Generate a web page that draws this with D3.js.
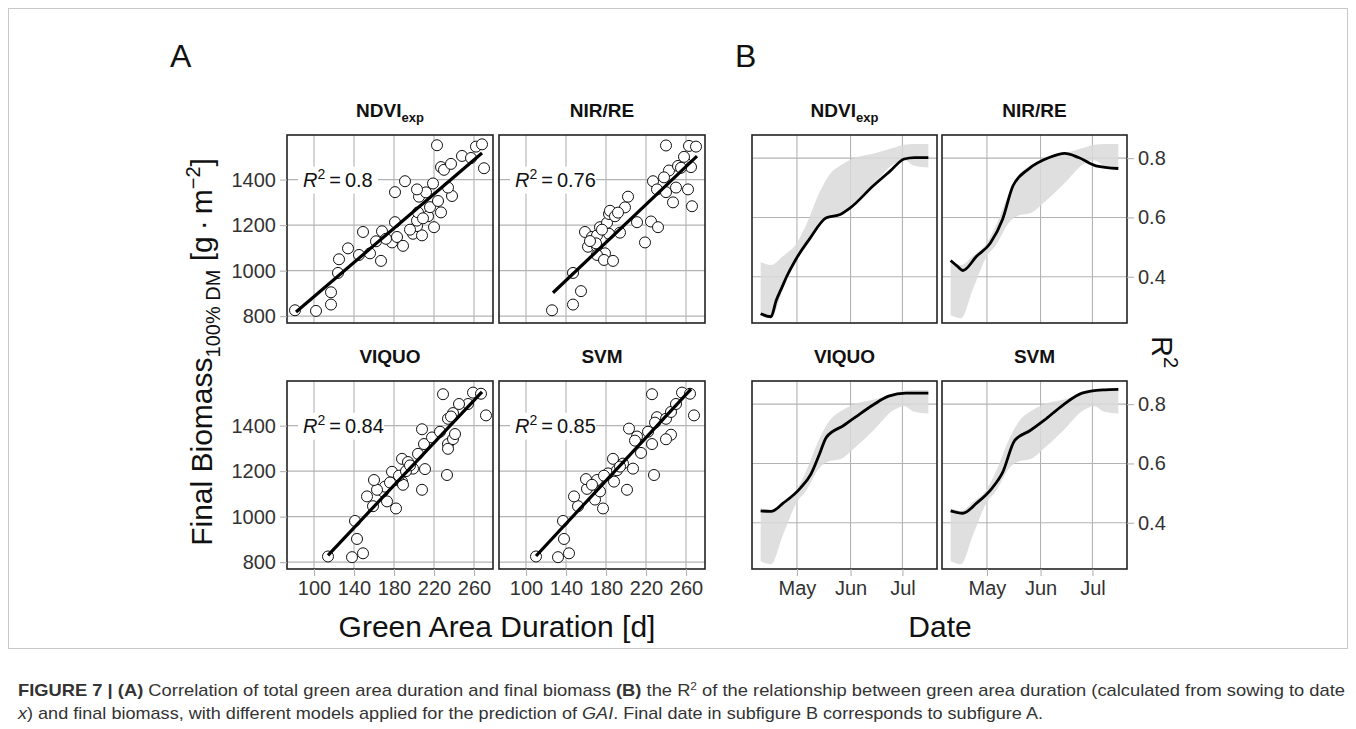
<!DOCTYPE html>
<html>
<head>
<meta charset="utf-8">
<script src="https://cdn.jsdelivr.net/npm/d3@7"></script>
<style>
  body { margin: 0; background: #fff; }
  text { font-family: "Liberation Sans", Arial, sans-serif; }
</style>
</head>
<body>
<svg id="fig" width="1356" height="729"></svg>
<script>
// ---- data ----
var panelNames = ["NDVI", "NIR/RE", "VIQUO", "SVM"];
var panelSubs = ["exp", "", "", ""];
var r2Labels = ["0.8", "0.76", "0.84", "0.85"];
var gadTicks = [100, 140, 180, 220, 260];
var biomassTicks = [800, 1000, 1200, 1400];
var r2Ticks = [0.4, 0.6, 0.8];
var monthTicks = ["2019-05-01", "2019-06-01", "2019-07-01"];

// green area duration [d], final biomass [g m-2]
var ndviPoints = [[81,826],[102,823],[117,851],[117,905],[124,990],[125,1050],[134,1098],[145,1069],[156,1076],
  [149,1170],[162,1129],[167,1043],[168,1173],[178,1124],[181,1213],[183,1148],[189,1109],[199,1162],[208,1155],
  [203,1196],[203,1220],[220,1191],[204,1256],[214,1239],[227,1256],[216,1279],[224,1306],[205,1325],[212,1344],
  [238,1328],[234,1365],[203,1357],[219,1383],[181,1345],[191,1393],[227,1455],[230,1443],[237,1469],[223,1551],
  [248,1504],[262,1545],[268,1555],[270,1450],[257,1495],[196,1180],[172,1140],[209,1230]];
var nirPoints = [[126,826],[147,851],[155,910],[147,990],[162,1105],[171,1105],[179,1076],[171,1069],[178,1047],
  [187,1043],[159,1170],[166,1148],[171,1155],[183,1162],[194,1167],[174,1191],[181,1210],[211,1213],[225,1216],
  [232,1191],[219,1124],[183,1249],[184,1263],[189,1239],[199,1278],[202,1325],[227,1393],[231,1357],[240,1345],
  [247,1300],[250,1365],[243,1440],[238,1410],[252,1460],[260,1470],[265,1455],[240,1550],[263,1548],[270,1545],
  [258,1500],[262,1357],[266,1283],[255,1452],[170,1120],[164,1130],[176,1180],[192,1255]];
var viquoPoints = [[114,825],[138,822],[149,839],[143,902],[141,981],[159,1046],[182,1036],[173,1067],[153,1089],
  [169,1111],[171,1132],[163,1118],[160,1161],[181,1161],[188,1154],[189,1140],[178,1197],[188,1254],[194,1240],
  [199,1211],[211,1209],[208,1118],[204,1276],[210,1319],[218,1348],[208,1384],[226,1373],[234,1319],[234,1298],
  [239,1341],[241,1363],[233,1183],[234,1430],[239,1455],[237,1440],[254,1495],[229,1538],[259,1545],[267,1540],
  [272,1445],[245,1495],[185,1180],[176,1150],[192,1200],[196,1225]];
var svmPoints = [[110,825],[132,822],[143,839],[138,902],[137,981],[152,1046],[177,1036],[169,1075],[148,1089],
  [174,1111],[161,1122],[160,1165],[171,1161],[188,1154],[182,1190],[191,1204],[197,1233],[187,1254],[207,1211],
  [201,1118],[228,1183],[203,1387],[211,1352],[209,1334],[222,1373],[226,1319],[231,1437],[229,1413],[240,1430],
  [245,1460],[250,1495],[226,1538],[256,1545],[264,1540],[268,1445],[245,1360],[240,1340],[178,1180],[166,1140],
  [194,1220],[215,1280]];
// fitted line end points
var ndviFit = [[82,818],[268,1517]];
var nirFit = [[127,903],[271,1503]];
var viquoFit = [[114,830],[268,1548]];
var svmFit = [[110,827],[265,1560]];

// R2 over time, ribbon shared by all panels
var ribbonDates = ["2019-04-10","2019-04-16","2019-04-23","2019-05-01","2019-05-06","2019-05-14","2019-05-20",
  "2019-05-26","2019-06-03","2019-06-14","2019-06-26","2019-07-02","2019-07-08","2019-07-16"];
var ribbonLower = [0.27,0.26,0.36,0.47,0.505,0.585,0.608,0.614,0.65,0.71,0.78,0.793,0.774,0.768];
var ribbonUpper = [0.45,0.44,0.47,0.515,0.57,0.684,0.746,0.775,0.80,0.815,0.835,0.845,0.848,0.848];

var ndviDates = ["2019-04-10","2019-04-16","2019-04-19","2019-04-22","2019-04-25","2019-04-30","2019-05-08",
  "2019-05-18","2019-05-26","2019-06-01","2019-06-14","2019-06-24","2019-07-02","2019-07-08","2019-07-16"];
var ndviR2 = [0.275,0.265,0.32,0.36,0.40,0.455,0.525,0.599,0.61,0.633,0.706,0.757,0.797,0.802,0.802];
var nirDates = ["2019-04-10","2019-04-14","2019-04-17","2019-04-25","2019-05-03","2019-05-10","2019-05-16",
  "2019-05-25","2019-06-06","2019-06-15","2019-06-23","2019-07-03","2019-07-16"];
var nirR2 = [0.455,0.435,0.421,0.469,0.514,0.593,0.706,0.763,0.802,0.816,0.802,0.774,0.765];
var viquoDates = ["2019-04-10","2019-04-16","2019-04-23","2019-05-03","2019-05-09","2019-05-14","2019-05-18",
  "2019-05-28","2019-06-04","2019-06-14","2019-06-23","2019-07-03","2019-07-16"];
var viquoR2 = [0.44,0.438,0.466,0.517,0.563,0.631,0.688,0.728,0.757,0.797,0.827,0.837,0.837];
var svmDates = ["2019-04-10","2019-04-17","2019-04-25","2019-05-04","2019-05-10","2019-05-17","2019-05-26",
  "2019-06-03","2019-06-14","2019-06-25","2019-07-07","2019-07-16"];
var svmR2 = [0.44,0.432,0.466,0.517,0.569,0.677,0.711,0.745,0.797,0.837,0.848,0.85];

var scatterSets = [ndviPoints, nirPoints, viquoPoints, svmPoints];
var fitSets = [ndviFit, nirFit, viquoFit, svmFit];
var curveDates = [ndviDates, nirDates, viquoDates, svmDates];
var curveValues = [ndviR2, nirR2, viquoR2, svmR2];

// ---- layout ----
var svg = d3.select("#fig");
var parseDate = d3.timeParse("%Y-%m-%d");
var gridColor = "#b3b3b3";
var panelH = 188;
var rowTop = [135, 381];
var colA = [287, 499], widthA = 206;
var colB = [752, 942], widthB = 185;

svg.append("rect").attr("x", 8.5).attr("y", 8.5).attr("width", 1339).attr("height", 640)
  .attr("fill", "none").attr("stroke", "#c8c8c8");

var xA = d3.scaleLinear().domain([73, 279]).range([0, widthA]);
var yA = d3.scaleLinear().domain([770, 1596]).range([panelH, 0]);
var xB = d3.scaleTime().domain([parseDate("2019-04-05"), parseDate("2019-07-21")]).range([0, widthB]);
var yB = d3.scaleLinear().domain([0.244, 0.878]).range([panelH, 0]);

function stripTitle(cx, y, i) {
  var t = svg.append("text").attr("x", cx).attr("y", y).attr("text-anchor", "middle")
    .attr("font-size", 19).attr("font-weight", "bold").attr("fill", "#111");
  t.append("tspan").text(panelNames[i]);
  if (panelSubs[i]) t.append("tspan").attr("font-size", 13).attr("dy", 5).text(panelSubs[i]);
}

function grid(g, xs, ys, xTicks, yTicks, w) {
  g.selectAll(".gx").data(xTicks).enter().append("line")
    .attr("x1", function(d) { return xs(d); }).attr("x2", function(d) { return xs(d); })
    .attr("y1", 0).attr("y2", panelH).attr("stroke", gridColor).attr("stroke-width", 1.1);
  g.selectAll(".gy").data(yTicks).enter().append("line")
    .attr("y1", function(d) { return ys(d); }).attr("y2", function(d) { return ys(d); })
    .attr("x1", 0).attr("x2", w).attr("stroke", gridColor).attr("stroke-width", 1.1);
}

function styleAxis(a) {
  a.select(".domain").remove();
  a.selectAll(".tick line").attr("stroke", gridColor).attr("stroke-width", 1.1);
  a.selectAll(".tick text").attr("font-size", 20).attr("fill", "#333");
}

// ---- panel A: scatter plots ----
scatterSets.forEach(function(pts, i) {
  var col = i % 2, row = Math.floor(i / 2);
  var g = svg.append("g").attr("transform", "translate(" + colA[col] + "," + rowTop[row] + ")");
  grid(g, xA, yA, gadTicks, biomassTicks, widthA);

  // R2 label with white background
  var lab = g.append("g").attr("transform", "translate(" + xA(89) + "," + yA(1400) + ")");
  var bw = r2Labels[i].length > 3 ? 86 : 80;
  lab.append("rect").attr("x", -5).attr("y", -13).attr("width", bw).attr("height", 27).attr("fill", "#fff");
  var lt = lab.append("text").attr("y", 7).attr("font-size", 20).attr("fill", "#111");
  lt.append("tspan").attr("font-style", "italic").text("R");
  lt.append("tspan").attr("font-size", 14).attr("dy", -8).text("2");
  lt.append("tspan").attr("dy", 8).text("\u2009=\u20090" + r2Labels[i].slice(1));

  g.selectAll("circle").data(pts).enter().append("circle")
    .attr("cx", function(d) { return xA(d[0]); })
    .attr("cy", function(d) { return yA(d[1]); })
    .attr("r", 5.5).attr("fill", "#fff").attr("stroke", "#111").attr("stroke-width", 1);

  g.append("line")
    .attr("x1", xA(fitSets[i][0][0])).attr("y1", yA(fitSets[i][0][1]))
    .attr("x2", xA(fitSets[i][1][0])).attr("y2", yA(fitSets[i][1][1]))
    .attr("stroke", "#000").attr("stroke-width", 3.2);

  g.append("rect").attr("width", widthA).attr("height", panelH)
    .attr("fill", "none").attr("stroke", "#222").attr("stroke-width", 1.6);

  if (col === 0) {
    var ay = g.append("g")
      .call(d3.axisLeft(yA).tickValues(biomassTicks).tickSize(7).tickPadding(4).tickFormat(d3.format("d")));
    styleAxis(ay);
  }
  if (row === 1) {
    var ax = g.append("g").attr("transform", "translate(0," + panelH + ")")
      .call(d3.axisBottom(xA).tickValues(gadTicks).tickSize(7).tickPadding(5).tickFormat(d3.format("d")));
    styleAxis(ax);
  }
  stripTitle(colA[col] + widthA / 2, rowTop[row] - 18, i);
});

// ---- panel B: R2 over time ----
var area = d3.area().curve(d3.curveMonotoneX)
  .x(function(d) { return xB(d.date); })
  .y0(function(d) { return yB(d.lo); })
  .y1(function(d) { return yB(d.hi); });
var line = d3.line().curve(d3.curveMonotoneX)
  .x(function(d) { return xB(d.date); })
  .y(function(d) { return yB(d.r2); });
var ribbon = ribbonDates.map(function(d, k) {
  return { date: parseDate(d), lo: ribbonLower[k], hi: ribbonUpper[k] };
});
var monthDates = monthTicks.map(parseDate);

curveDates.forEach(function(dates, i) {
  var col = i % 2, row = Math.floor(i / 2);
  var g = svg.append("g").attr("transform", "translate(" + colB[col] + "," + rowTop[row] + ")");
  grid(g, xB, yB, monthDates, r2Ticks, widthB);

  g.append("path").datum(ribbon).attr("d", area).attr("fill", "#d9d9d9").attr("fill-opacity", 0.85);
  var vals = dates.map(function(d, k) { return { date: parseDate(d), r2: curveValues[i][k] }; });
  g.append("path").datum(vals).attr("d", line)
    .attr("fill", "none").attr("stroke", "#000").attr("stroke-width", 2.8);

  g.append("rect").attr("width", widthB).attr("height", panelH)
    .attr("fill", "none").attr("stroke", "#222").attr("stroke-width", 1.6);

  if (col === 1) {
    var ay = g.append("g").attr("transform", "translate(" + widthB + ",0)")
      .call(d3.axisRight(yB).tickValues(r2Ticks).tickSize(7).tickPadding(4).tickFormat(d3.format(".1f")));
    styleAxis(ay);
  }
  if (row === 1) {
    var ax = g.append("g").attr("transform", "translate(0," + panelH + ")")
      .call(d3.axisBottom(xB).tickValues(monthDates).tickSize(7).tickPadding(5).tickFormat(d3.timeFormat("%b")));
    styleAxis(ax);
  }
  stripTitle(colB[col] + widthB / 2, rowTop[row] - 18, i);
});

// ---- axis titles and panel letters ----
svg.append("text").attr("x", 170).attr("y", 67).attr("font-size", 32).attr("fill", "#111").text("A");
svg.append("text").attr("x", 735).attr("y", 67).attr("font-size", 32).attr("fill", "#111").text("B");

svg.append("text").attr("x", 497).attr("y", 637).attr("text-anchor", "middle")
  .attr("font-size", 30).attr("fill", "#111").text("Green Area Duration [d]");
svg.append("text").attr("x", 940).attr("y", 637).attr("text-anchor", "middle")
  .attr("font-size", 30).attr("fill", "#111").text("Date");

var yt = svg.append("text").attr("transform", "translate(212,352) rotate(-90)")
  .attr("text-anchor", "middle").attr("font-size", 30).attr("fill", "#111");
yt.append("tspan").text("Final Biomass");
yt.append("tspan").attr("font-size", 20).attr("dy", 8).text("100% DM");
yt.append("tspan").attr("dy", -8).text(" [g\u2009\u00b7\u2009m");
yt.append("tspan").attr("font-size", 20).attr("dy", -12).text("\u22122");
yt.append("tspan").attr("dy", 12).text("]");

var rt = svg.append("text").attr("transform", "translate(1152,352) rotate(90)")
  .attr("text-anchor", "middle").attr("font-size", 29).attr("fill", "#111");
rt.append("tspan").text("R");
rt.append("tspan").attr("font-size", 20).attr("dy", -12).text("2");

// ---- caption (condensed look via textLength) ----
var cap = svg.append("g").attr("fill", "#333");
var c1 = cap.append("text").attr("x", 18).attr("y", 696).attr("font-size", 17)
  .attr("textLength", 1327).attr("lengthAdjust", "spacingAndGlyphs");
c1.append("tspan").attr("font-weight", "bold").text("FIGURE 7 | (A)");
c1.append("tspan").text(" Correlation of total green area duration and final biomass ");
c1.append("tspan").attr("font-weight", "bold").text("(B)");
c1.append("tspan").text(" the R");
c1.append("tspan").attr("font-size", 11).attr("dy", -6).text("2");
c1.append("tspan").attr("dy", 6).text(" of the relationship between green area duration (calculated from sowing to date");
var c2 = cap.append("text").attr("x", 18).attr("y", 719).attr("font-size", 17)
  .attr("textLength", 1025).attr("lengthAdjust", "spacingAndGlyphs");
c2.append("tspan").attr("font-style", "italic").text("x");
c2.append("tspan").text(") and final biomass, with different models applied for the prediction of ");
c2.append("tspan").attr("font-style", "italic").text("GAI");
c2.append("tspan").text(". Final date in subfigure B corresponds to subfigure A.");
</script>
</body>
</html>
